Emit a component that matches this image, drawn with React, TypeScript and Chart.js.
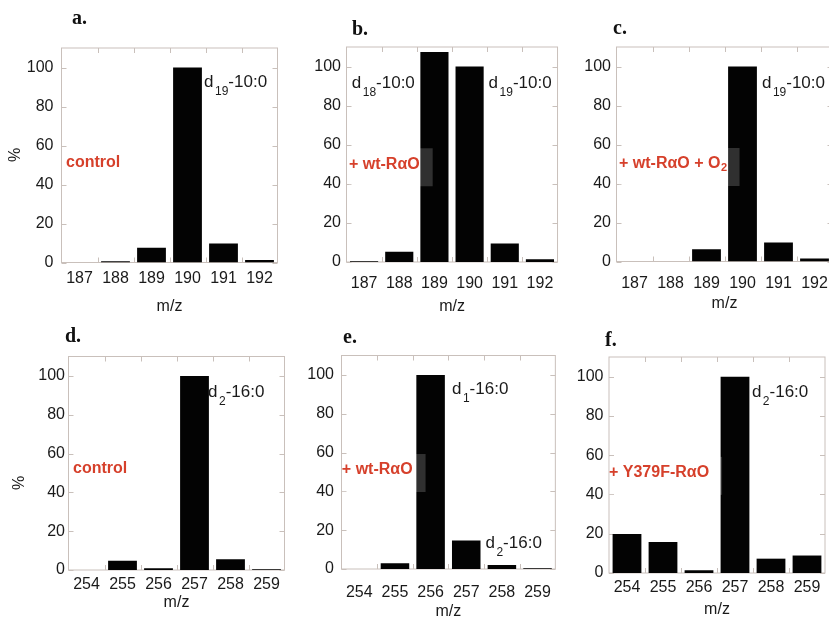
import React, { useEffect, useRef } from 'react';
import { Chart, registerables } from 'chart.js';

Chart.register(...registerables);

// ---------- data ----------
const MZ_TOP = ['187', '188', '189', '190', '191', '192'];
const MZ_BOTTOM = ['254', '255', '256', '257', '258', '259'];
const Y_TICKS = [0, 20, 40, 60, 80, 100];

const VALUES_A = [0, 0.7, 7.6, 100, 9.8, 1.3];
const VALUES_B = [0.4, 5.2, 107.5, 100, 9.5, 1.4];
const VALUES_C = [0, 0, 6.3, 100, 9.8, 1.5];
const VALUES_D = [0, 4.8, 0.9, 100, 5.5, 0.4];
const VALUES_E = [0, 3, 100, 14.7, 2.1, 0.4];
const VALUES_F = [19.8, 15.8, 1.4, 100, 7.3, 8.9];

const PANEL_LETTERS = ['a.', 'b.', 'c.', 'd.', 'e.', 'f.'];
// condition labels: main text + optional subscript; x = category index (left edge), y = value (centre)
const CONDITIONS = [
  { text: 'control', sub: '', x: -0.375, y: 51 },
  { text: '+ wt-RαO', sub: '', x: -0.43, y: 50 },
  { text: '+ wt-RαO + O', sub: '2', x: -0.43, y: 50 },
  { text: 'control', sub: '', x: -0.375, y: 52 },
  { text: '+ wt-RαO', sub: '', x: -0.49, y: 51 },
  { text: '+ Y379F-RαO', sub: '', x: -0.5, y: 51 },
];
// peak labels: x = category index of left edge, y = value at baseline
const PEAKS_A = [{ base: 'd', sub: '19', rest: '-10:0', x: 3.46, y: 90 }];
const PEAKS_B = [
  { base: 'd', sub: '18', rest: '-10:0', x: -0.35, y: 89 },
  { base: 'd', sub: '19', rest: '-10:0', x: 3.54, y: 89 },
];
const PEAKS_C = [{ base: 'd', sub: '19', rest: '-10:0', x: 3.54, y: 89 }];
const PEAKS_D = [{ base: 'd', sub: '2', rest: '-16:0', x: 3.375, y: 89.3 }];
const PEAKS_E = [
  { base: 'd', sub: '1', rest: '-16:0', x: 2.6, y: 90.2 },
  { base: 'd', sub: '2', rest: '-16:0', x: 3.54, y: 10.7 },
];
const PEAKS_F = [{ base: 'd', sub: '2', rest: '-16:0', x: 3.47, y: 89.8 }];

const LABELS = [MZ_TOP, MZ_TOP, MZ_TOP, MZ_BOTTOM, MZ_BOTTOM, MZ_BOTTOM];
const VALUES = [VALUES_A, VALUES_B, VALUES_C, VALUES_D, VALUES_E, VALUES_F];
const PEAKS = [PEAKS_A, PEAKS_B, PEAKS_C, PEAKS_D, PEAKS_E, PEAKS_F];

// ---------- layout (page pixels) ----------
type Lay = {
  canvas: number[]; plot: number[]; yPad: number; xPad: number;
  mzBase: number; letter: number[]; pct?: number[];
};
const LAYOUT: Lay[] = [
  { canvas: [0, 0, 290, 318], plot: [61.5, 48, 277.5, 262.5], yPad: 8, xPad: 6, mzBase: 311, letter: [72, 24], pct: [16, 155] },
  { canvas: [290, 0, 275, 318], plot: [346.5, 47, 562.5, 262], yPad: 5.5, xPad: 11.5, mzBase: 311, letter: [352, 35] },
  { canvas: [565, 0, 280, 318], plot: [616.5, 47, 832.5, 261.5], yPad: 5.5, xPad: 12, mzBase: 307.5, letter: [613, 34] },
  { canvas: [0, 318, 290, 304], plot: [68.5, 356.5, 284.5, 570], yPad: 3.5, xPad: 5, mzBase: 606.5, letter: [65, 342], pct: [20, 483] },
  { canvas: [290, 318, 275, 304], plot: [341.5, 355.5, 557.5, 569], yPad: 7.5, xPad: 13.5, mzBase: 616, letter: [343, 343] },
  { canvas: [565, 318, 280, 304], plot: [609, 357, 825, 573], yPad: 5.5, xPad: 4.5, mzBase: 614, letter: [605, 346] },
];

const SANS = '"Liberation Sans", Arial, Helvetica, sans-serif';
const SERIF = '"Liberation Serif", "Times New Roman", serif';
const TEXT = '#1a1a1a';
const FRAME = '#c9c0bb';
const RED = '#d6402b';

function makeDecor(idx: number) {
  const L = LAYOUT[idx];
  const cx = L.canvas[0];
  const cy = L.canvas[1];
  return {
    id: 'decor' + idx,
    beforeDatasetsDraw(chart: any) {
      const { ctx, chartArea: a, scales } = chart;
      const x = scales.x;
      const y = scales.y;
      ctx.save();
      ctx.strokeStyle = FRAME;
      ctx.lineWidth = 1;
      ctx.strokeRect(a.left, a.top, a.right - a.left, a.bottom - a.top);
      ctx.beginPath();
      Y_TICKS.forEach((v) => {
        const py = Math.round(y.getPixelForValue(v)) + 0.5;
        ctx.moveTo(a.left, py); ctx.lineTo(a.left + 5, py);
        ctx.moveTo(a.right, py); ctx.lineTo(a.right - 5, py);
      });
      for (let i = 0; i < LABELS[idx].length - 1; i++) {
        const px = Math.round(x.getPixelForValue(i + 0.5)) + 0.5;
        ctx.moveTo(px, a.top); ctx.lineTo(px, a.top + 5);
        ctx.moveTo(px, a.bottom); ctx.lineTo(px, a.bottom - 5);
      }
      ctx.stroke();
      ctx.restore();
    },
    afterDatasetsDraw(chart: any) {
      const { ctx, chartArea: a, scales } = chart;
      const x = scales.x;
      const y = scales.y;
      ctx.save();

      // condition label (red) with its faint box
      const c = CONDITIONS[idx];
      const lx = x.getPixelForValue(c.x);
      const ly = y.getPixelForValue(c.y);
      ctx.font = `bold 16px ${SANS}`;
      const w = ctx.measureText(c.text).width;
      ctx.font = `bold 11px ${SANS}`;
      const sw = c.sub ? ctx.measureText(c.sub).width : 0;
      ctx.fillStyle = 'rgba(255,255,255,0.18)';
      ctx.fillRect(lx, ly - 16, w + sw + 13, 38);
      ctx.fillStyle = RED;
      ctx.textBaseline = 'middle';
      ctx.textAlign = 'left';
      ctx.font = `bold 16px ${SANS}`;
      ctx.fillText(c.text, lx, ly);
      if (c.sub) {
        ctx.font = `bold 11px ${SANS}`;
        ctx.fillText(c.sub, lx + w + 0.5, ly + 4);
      }

      // peak labels
      ctx.fillStyle = TEXT;
      ctx.textBaseline = 'alphabetic';
      PEAKS[idx].forEach((p) => {
        let px = x.getPixelForValue(p.x);
        const py = y.getPixelForValue(p.y);
        ctx.font = `17px ${SANS}`;
        ctx.fillText(p.base, px, py);
        px += ctx.measureText(p.base).width + 1.5;
        ctx.font = `12px ${SANS}`;
        ctx.fillText(p.sub, px, py + 8);
        px += ctx.measureText(p.sub).width;
        ctx.font = `17px ${SANS}`;
        ctx.fillText(p.rest, px, py);
      });

      // panel letter
      ctx.font = `bold 20px ${SERIF}`;
      ctx.fillStyle = '#111';
      ctx.fillText(PANEL_LETTERS[idx], L.letter[0] - cx, L.letter[1] - cy);

      // x-axis title
      ctx.font = `16px ${SANS}`;
      ctx.fillStyle = TEXT;
      ctx.textAlign = 'center';
      ctx.fillText('m/z', (a.left + a.right) / 2, L.mzBase - cy);

      // y-axis title
      if (L.pct) {
        ctx.save();
        ctx.translate(L.pct[0] - cx, L.pct[1] - cy);
        ctx.rotate(-Math.PI / 2);
        ctx.textBaseline = 'middle';
        ctx.fillText('%', 0, 0);
        ctx.restore();
      }
      ctx.restore();
    },
  };
}

function Panel({ idx }: { idx: number }) {
  const ref = useRef<HTMLCanvasElement>(null);
  const L = LAYOUT[idx];
  const [cx, cy, cw, ch] = L.canvas;
  const [pl, pt, pr, pb] = L.plot;
  useEffect(() => {
    if (!ref.current) return;
    const chart = new Chart(ref.current, {
      type: 'bar',
      data: {
        labels: LABELS[idx],
        datasets: [
          {
            data: VALUES[idx],
            backgroundColor: '#030303',
            borderWidth: 0,
            barPercentage: 0.8,
            categoryPercentage: 1,
          },
        ],
      },
      options: {
        responsive: false,
        animation: false,
        devicePixelRatio: 1,
        layout: { padding: { left: 0, top: pt - cy, right: cx + cw - pr, bottom: 0 } },
        plugins: { legend: { display: false }, tooltip: { enabled: false } },
        scales: {
          x: {
            grid: { display: false, drawTicks: false, tickLength: 0 },
            border: { display: false },
            ticks: {
              color: TEXT,
              font: { family: SANS, size: 16 },
              padding: L.xPad,
              autoSkip: false,
              maxRotation: 0,
            },
            afterFit: (s: any) => {
              s.height = cy + ch - pb;
            },
          },
          y: {
            min: 0,
            max: 110,
            grid: { display: false, drawTicks: false, tickLength: 0 },
            border: { display: false },
            ticks: {
              color: TEXT,
              font: { family: SANS, size: 16 },
              padding: L.yPad,
            },
            afterBuildTicks: (s: any) => {
              s.ticks = Y_TICKS.map((v) => ({ value: v }));
            },
            afterFit: (s: any) => {
              s.width = pl - cx;
            },
          },
        },
      } as any,
      plugins: [makeDecor(idx)],
    });
    return () => chart.destroy();
  }, [idx]);
  return (
    <canvas
      ref={ref}
      width={cw}
      height={ch}
      style={{ position: 'absolute', left: cx, top: cy, width: cw, height: ch }}
    />
  );
}

export default function App() {
  return (
    <div
      style={{
        position: 'absolute',
        left: 0,
        top: 0,
        width: 829,
        height: 622,
        overflow: 'hidden',
        background: '#ffffff',
      }}
    >
      {[0, 1, 2, 3, 4, 5].map((i) => (
        <Panel key={i} idx={i} />
      ))}
    </div>
  );
}
